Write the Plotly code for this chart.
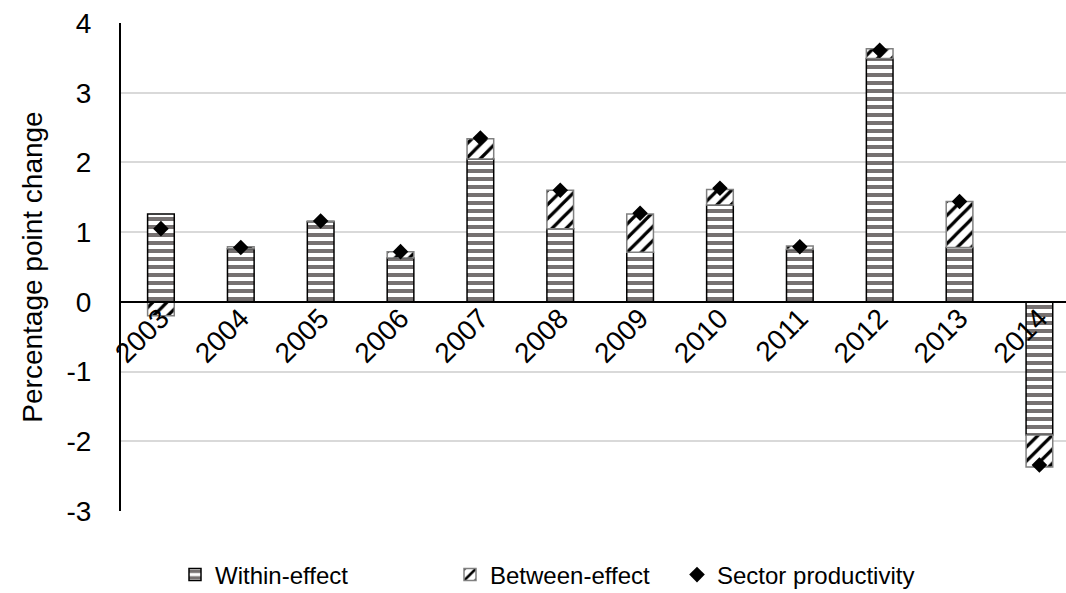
import plotly.graph_objects as go

years = ["2003", "2004", "2005", "2006", "2007", "2008", "2009", "2010", "2011", "2012", "2013", "2014"]
within_effect = [1.26, 0.76, 1.15, 0.63, 2.05, 1.05, 0.71, 1.39, 0.75, 3.49, 0.78, -1.91]
between_effect = [-0.20, 0.03, 0.01, 0.09, 0.29, 0.55, 0.55, 0.22, 0.05, 0.14, 0.66, -0.46]
sector_productivity = [1.05, 0.78, 1.16, 0.72, 2.35, 1.60, 1.27, 1.63, 0.79, 3.61, 1.44, -2.34]
y_ticks = [-3, -2, -1, 0, 1, 2, 3, 4]
y_tick_labels = ["-3", "-2", "-1", "0", "1", "2", "3", "4"]

FONT = "Arial, Liberation Sans, sans-serif"
FS = 28
LFS = 24

fig = go.Figure()
fig.add_trace(go.Bar(
    x=years, y=within_effect, name="Within-effect", legendwidth=230,
    marker=dict(color="white", line=dict(color="black", width=1.5),
                pattern=dict(shape="-", fgcolor="#767171", bgcolor="white",
                             size=8, solidity=0.5, fgopacity=1, fillmode="replace")),
))
fig.add_trace(go.Bar(
    x=years, y=between_effect, name="Between-effect", legendwidth=182,
    marker=dict(color="white", line=dict(color="#808080", width=1.5),
                pattern=dict(shape="/", fgcolor="black", bgcolor="white",
                             size=10, solidity=0.32, fgopacity=1, fillmode="replace")),
))
fig.add_trace(go.Scatter(
    x=years, y=sector_productivity, name="Sector productivity",
    mode="markers", marker=dict(symbol="diamond", color="black", size=12),
))

fig.update_layout(
    barmode="relative",
    bargap=0.666,
    width=1066, height=593,
    margin=dict(l=121, r=0, t=23, b=82),
    paper_bgcolor="white", plot_bgcolor="white",
    font=dict(family=FONT, size=FS, color="black"),
    showlegend=True,
    legend=dict(orientation="h", xref="container", yref="container",
                x=175/1066, xanchor="left", y=1 - 575/593, yanchor="middle",
                font=dict(size=LFS), traceorder="normal", itemwidth=30),
)
fig.update_xaxes(
    type="category",
    range=[-0.5, 11.333],
    anchor="free", position=3/7,
    showline=True, linecolor="black", linewidth=2,
    showgrid=False, ticks="", tickangle=-45, ticklabelstandoff=-12,
    tickfont=dict(size=FS), automargin=False,
)
fig.update_yaxes(
    range=[-3, 4], tickvals=y_ticks, ticktext=y_tick_labels,
    showgrid=True, gridcolor="#d9d9d9", gridwidth=1.5,
    zeroline=True, zerolinecolor="black", zerolinewidth=2,
    showline=True, linecolor="black", linewidth=2,
    ticks="", ticklabelstandoff=22,
    tickfont=dict(size=FS),
    title=dict(text="Percentage point change", font=dict(size=FS), standoff=16),
    automargin=False,
)

fig.write_html("out.html")
